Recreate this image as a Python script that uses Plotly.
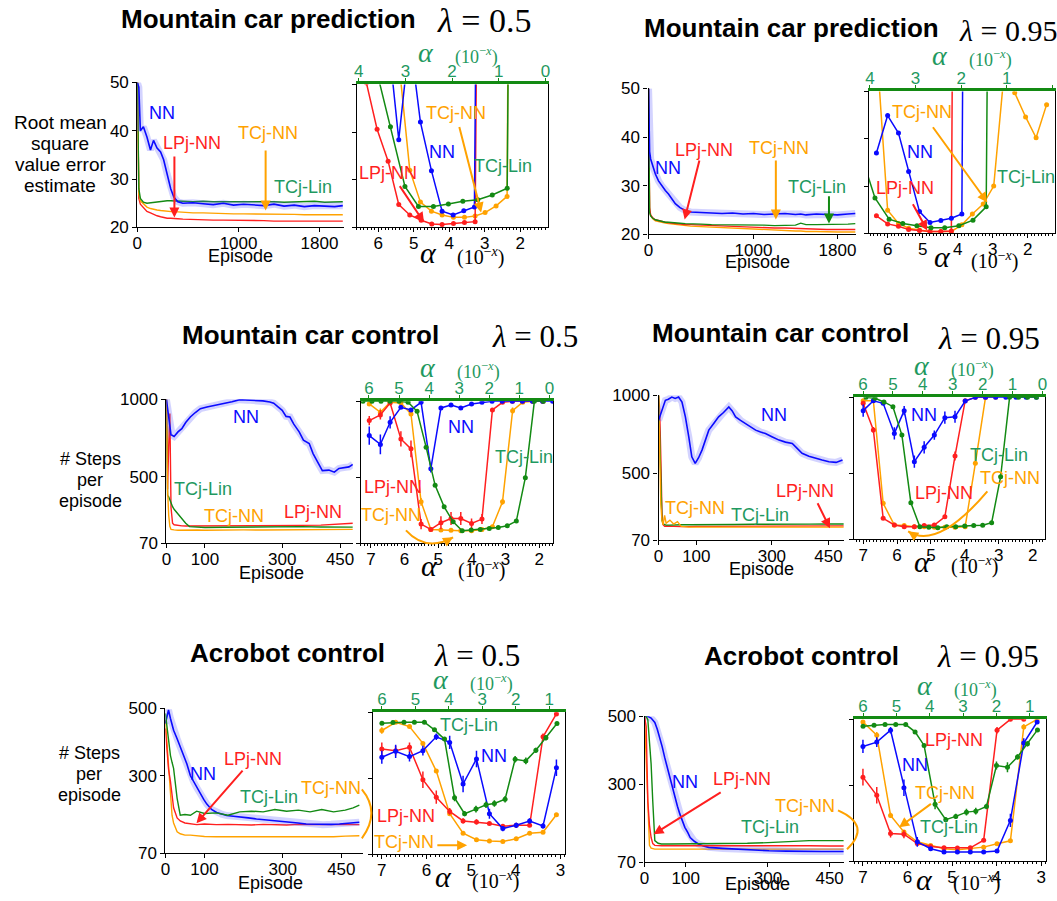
import plotly.graph_objects as go

W, H = 1057, 901
# measured placement of the figure inside the returned picture: picture = S * figure + O
SX, OX = 0.991, 5.0
SY, OY = 0.979, 8.6
BLUE = "#0a0aff"
RED = "#ff1f1f"
ORANGE = "#ffa200"
GREEN = "#138a13"
TGREEN = "#1f9960"
SANS = "Liberation Sans, Arial, sans-serif"
SERIF = "Liberation Serif, DejaVu Serif, serif"

# ------------------------------------------------------------------ DATA
# tick labels
pred_xticks = [0, 1000, 1800]
pred_yticks = [20, 30, 40, 50]
ctrl_xticks = [0, 100, 300, 450]
ctrl_yticks = [70, 500, 1000]
acro_yticks = [70, 300, 500]
pred_sens_ticks = [6, 5, 4, 3, 2]
pred_top_ticks = [4, 3, 2, 1, 0]
ctrl_sens_ticks = [7, 6, 5, 4, 3, 2]
ctrl_top_ticks = [6, 5, 4, 3, 2, 1, 0]
acro_sens_ticks = [7, 6, 5, 4, 3]
acro_top_ticks = [6, 5, 4, 3, 2, 1]

# Mountain car prediction, lambda 0.5 (learning curves)
mcp05_ep = [0, 15, 30, 60, 95, 130, 160, 195, 230, 260, 295, 330, 360, 400, 450, 550, 650, 750, 850, 950,
            1050, 1150, 1250, 1350, 1450, 1550, 1650, 1750, 1850, 1950, 2030]
mcp05_nn = [50, 49, 40, 40.8, 38.7, 36, 38, 36.4, 35.6, 34, 31, 28, 26.3, 25.3, 25.0, 25.1, 24.9, 24.7, 25.0, 24.6,
            24.8, 24.7, 24.5, 24.8, 24.4, 24.6, 24.3, 24.5, 24.4, 24.3, 24.5]
mcp05_tclin = [52, 28, 26, 25.2, 25.0, 25.1, 25.2, 25.3, 25.4, 25.5, 25.5, 25.5, 25.5, 25.4, 25.4, 25.3, 25.4, 25.3,
               25.3, 25.3, 25.3, 25.4, 25.3, 25.3, 25.2, 25.3, 25.3, 25.4, 25.2, 25.2, 25.3]
mcp05_tcnn = [52, 27, 25.5, 24.8, 24.2, 23.9, 23.7, 23.6, 23.5, 23.4, 23.3, 23.3, 23.2, 23.2, 23.1, 23.0, 23.0, 22.9,
              22.9, 22.8, 22.8, 22.8, 22.7, 22.7, 22.7, 22.7, 22.6, 22.6, 22.6, 22.6, 22.6]
mcp05_lpnn = [52, 26, 24.8, 24.0, 23.3, 23.0, 22.7, 22.4, 22.2, 22.0, 21.9, 21.9, 21.8, 21.8, 21.7, 21.6, 21.6, 21.5,
              21.5, 21.5, 21.4, 21.4, 21.4, 21.3, 21.3, 21.3, 21.2, 21.2, 21.2, 21.2, 21.3]

# Mountain car prediction, lambda 0.95
mcp095_ep = [0, 10, 20, 40, 65, 95, 125, 160, 190, 225, 255, 300, 350, 400, 500, 600, 700, 800, 900, 1000,
             1100, 1200, 1300, 1400, 1450, 1500, 1600, 1700, 1800, 1900, 1970]
mcp095_nn = [50, 37, 35.5, 34, 32.4, 31, 30, 29, 28.3, 27.2, 26.3, 25.5, 24.9, 24.6, 24.5, 24.4, 24.3, 24.4, 24.2,
             24.3, 24.1, 24.2, 24.3, 24.1, 24.2, 24.0, 24.2, 24.1, 24.0, 24.2, 24.3]
mcp095_tcnn = [50, 25, 23.9, 23.2, 22.8, 22.6, 22.4, 22.3, 22.2, 22.1, 22.0, 21.9, 21.8, 21.7, 21.6, 21.5, 21.3,
               21.2, 21.1, 21.0, 20.9, 20.8, 20.8, 20.7, 20.7, 20.6, 20.6, 20.5, 20.5, 20.5, 20.5]
mcp095_lpnn = [50, 25.5, 24.0, 23.4, 23.0, 22.8, 22.6, 22.5, 22.4, 22.3, 22.2, 22.1, 22.0, 22.0, 21.9, 21.8, 21.7,
               21.6, 21.5, 21.4, 21.4, 21.3, 21.3, 21.2, 21.2, 21.1, 21.1, 21.0, 21.0, 21.0, 21.0]
mcp095_tclin = [50, 24.5, 23.8, 23.3, 23.0, 22.8, 22.6, 22.5, 22.5, 22.4, 22.3, 22.3, 22.2, 22.2, 22.1, 22.0, 22.0,
                22.0, 21.9, 21.9, 21.9, 21.8, 21.8, 21.9, 22.3, 22.0, 22.0, 22.0, 22.1, 22.1, 22.2]

# Mountain car control, lambda 0.5
mcc05_ep = [0, 5, 9, 12, 15, 20, 30, 40, 50, 62, 75, 88, 105, 125, 148, 170, 190, 210, 233, 250,
            268, 278, 290, 300, 310, 320, 330, 344, 355, 362, 370, 380, 390, 404, 421, 435, 447, 460, 473, 483]
mcc05_nn = [1000, 900, 800, 770, 768, 760, 790, 811, 850, 886, 915, 940, 951, 960, 972, 985, 998, 995, 994, 990,
            983, 975, 950, 929, 890, 886, 840, 790, 736, 725, 715, 650, 600, 540, 543, 530, 554, 560, 564, 580]
mcc05_ep2 = [0, 3, 6, 9, 12, 16, 20, 30, 40, 50, 60, 80, 100, 150, 200, 250, 300, 350, 400, 450, 483]
mcc05_lpnn = [1000, 420, 700, 908, 300, 200, 190, 185, 183, 182, 182, 182, 183, 182, 184, 183, 185, 186, 188, 195, 200]
mcc05_tclin = [1000, 380, 371, 350, 330, 307, 290, 260, 232, 200, 178, 175, 172, 174, 176, 175, 180, 178, 176, 177, 175]
mcc05_tcnn = [1000, 420, 250, 180, 160, 157, 157, 155, 156, 157, 155, 156, 155, 158, 157, 156, 157, 156, 158, 157, 160]

# Mountain car control, lambda 0.95
mcc095_ep = [0, 8, 18, 26, 35, 44, 53, 62, 71, 80, 88, 97, 106, 115, 124, 133, 146, 159, 172, 186,
             195, 204, 217, 230, 244, 257, 270, 283, 300, 319, 336, 354, 367, 380, 398, 416, 433, 451, 470, 487]
mcc095_nn = [840, 900, 968, 975, 989, 980, 989, 957, 862, 734, 606, 564, 600, 649, 720, 777, 820, 862, 890, 926,
             900, 862, 840, 819, 800, 777, 765, 755, 735, 713, 700, 691, 660, 628, 610, 596, 585, 574, 570, 585]
mcc095_ep2 = [0, 3, 6, 9, 12, 16, 20, 30, 40, 50, 60, 80, 100, 150, 200, 250, 300, 350, 400, 450, 490]
mcc095_lpnn = [1000, 900, 600, 250, 170, 160, 162, 160, 158, 160, 158, 158, 160, 160, 161, 162, 160, 162, 163, 162, 163]
mcc095_tcnn = [1000, 500, 300, 200, 170, 230, 180, 200, 175, 190, 160, 155, 155, 154, 155, 154, 155, 154, 155, 154, 155]
mcc095_tclin = [1000, 700, 350, 200, 175, 170, 168, 168, 170, 170, 170, 170, 171, 172, 172, 173, 172, 173, 174, 175, 175]

# Acrobot control, lambda 0.5
acr05_ep = [0, 4, 8, 13, 21, 30, 38, 47, 55, 64, 72, 80, 89, 98, 106, 118, 131, 144, 157, 174,
            191, 212, 233, 254, 275, 297, 318, 339, 360, 381, 403, 424, 445, 470, 496]
acr05_nn = [455, 480, 495, 470, 435, 410, 385, 355, 335, 300, 283, 265, 245, 230, 216, 200, 191, 186, 182, 180,
            177, 175, 172, 170, 167, 165, 162, 160, 157, 156, 155, 156, 157, 159, 162]
acr05_ep2 = [0, 4, 8, 13, 17, 21, 30, 38, 50, 64, 80, 100, 130, 160, 190, 220, 250, 280, 310, 340,
             370, 400, 430, 460, 480, 496]
acr05_tclin = [485, 450, 400, 360, 340, 322, 233, 183, 185, 183, 195, 188, 190, 183, 193, 195, 193, 200, 195, 198,
               193, 200, 193, 198, 205, 213]
acr05_lpnn = [440, 385, 320, 283, 240, 205, 175, 166, 160, 157, 155, 157, 155, 156, 155, 154, 156, 155, 154, 156,
              155, 154, 155, 156, 155, 155]
acr05_tcnn = [465, 400, 335, 250, 183, 160, 134, 128, 124, 124, 122, 120, 119, 119, 120, 119, 118, 120, 119, 119,
              120, 119, 119, 121, 121, 122]

# Acrobot control, lambda 0.95
acr095_ep = [0, 8, 16, 25, 31, 37, 43, 49, 55, 61, 67, 74, 80, 86, 92, 98, 105, 111, 121, 131,
             143, 156, 190, 221, 260, 303, 345, 385, 430, 484]
acr095_nn = [500, 500, 495, 482, 462, 438, 410, 379, 350, 320, 290, 261, 235, 212, 190, 173, 158, 143, 132, 124,
             118, 114, 111, 109, 106, 104, 103, 102, 102, 102]
acr095_ep2 = [0, 4, 8, 12, 16, 20, 25, 33, 41, 60, 100, 150, 200, 250, 300, 350, 400, 450, 484]
acr095_tclin = [500, 500, 490, 430, 360, 250, 134, 126, 124, 124, 124, 125, 125, 126, 128, 132, 134, 134, 134]
acr095_lpnn = [500, 470, 250, 180, 143, 125, 120, 119, 119, 119, 119, 120, 119, 120, 121, 120, 119, 118, 118]
acr095_tcnn = [500, 380, 212, 120, 112, 110, 109, 109, 109, 109, 109, 108, 109, 109, 110, 109, 109, 110, 109]

# ---- step-size sensitivity (alpha = 10^-x; TCj-Lin on the top axis)
mcp05s_nn_a = [5.72, 5.42, 5.11, 4.81, 4.50, 4.20, 3.89, 3.59, 3.29, 2.98]
mcp05s_nn_v = [60, 38.4, 60, 42.1, 31.9, 23.4, 22.6, 23.5, 24.3, 300]
mcp05s_lp_a = [6.33, 6.03, 5.72, 5.42, 5.11, 4.79, 4.49, 4.20, 3.88, 3.57, 3.27, 2.97]
mcp05s_lp_v = [50.3, 40.6, 33.9, 24.8, 22.6, 21.5, 20.7, 20.6, 20.8, 21.0, 21.2, 300]
mcp05s_tcnn_a = [5.42, 5.11, 4.81, 4.50, 4.20, 3.88, 3.57, 3.27, 2.99, 2.68, 2.37, 2.07]
mcp05s_tcnn_v = [55, 32, 25.3, 23.4, 22.6, 22.1, 22.1, 22.4, 23.1, 24.5, 26.5, 400]
mcp05s_tclin_a = [3.62, 3.32, 3.01, 2.72, 2.40, 2.08, 1.77, 1.45, 1.14, 0.82, 0.52]
mcp05s_tclin_v = [53, 41.1, 28.6, 24.4, 24.4, 24.9, 25.5, 25.8, 26.8, 28.2, 400]

mcp095s_nn_a = [6.32, 6.0, 5.69, 5.40, 5.09, 4.79, 4.48, 4.18, 3.88, 3.58]
mcp095s_nn_v = [37.0, 44.9, 41.2, 33.1, 24.6, 22.3, 22.7, 23.2, 24.1, 400]
mcp095s_lp_a = [6.32, 6.0, 5.69, 5.40, 5.09, 4.79, 4.48, 4.18, 3.88]
mcp095s_lp_v = [23.7, 22.0, 21.5, 20.8, 20.6, 20.4, 20.4, 20.5, 400]
mcp095s_tcnn_a = [6.32, 6.0, 5.69, 5.40, 5.09, 4.79, 4.48, 4.18, 3.88, 3.58, 3.27, 2.97, 2.66, 2.37, 2.06, 1.76, 1.46]
mcp095s_tcnn_v = [60, 24.9, 22.1, 21.1, 20.7, 20.4, 20.4, 20.4, 21.8, 24.1, 26.2, 30.0, 55, 49.7, 44.6, 40.2, 47.2]
mcp095s_tclin_a = [4.19, 3.89, 3.58, 3.28, 2.97, 2.66, 2.36, 2.05, 1.74, 1.45, 1.14]
mcp095s_tclin_v = [36.5, 27.5, 23.0, 22.1, 21.6, 21.2, 21.2, 21.6, 22.8, 25.6, 400]

mcc05s_nn_a = [7.05, 6.72, 6.43, 6.11, 5.81, 5.51, 5.22, 4.92, 4.62, 4.33, 4.01, 3.70, 3.40, 3.10, 2.80, 2.50,
               2.20, 1.90, 1.60]
mcc05s_nn_v = [776, 718, 863, 961, 944, 994, 559, 957, 976, 957, 983, 994, 1000, 1000, 1000, 1000, 1000, 1000, 1000]
mcc05s_nn_e = [60, 65, 40, 10, 10, 5, 25, 10, 5, 5, 5, 5, 0, 0, 0, 0, 0, 0, 0]
mcc05s_lp_a = [7.05, 6.72, 6.43, 6.11, 5.81, 5.51, 5.22, 4.92, 4.62, 4.33, 4.01, 3.70, 3.39, 3.09, 2.79, 2.49,
               2.19, 1.89]
mcc05s_lp_v = [874, 911, 989, 754, 689, 196, 161, 205, 233, 233, 200, 229, 944, 994, 1000, 1000, 1000, 1000]
mcc05s_lp_e = [30, 30, 5, 50, 55, 33, 10, 43, 43, 43, 33, 33, 10, 5, 0, 0, 0, 0]
mcc05s_tcnn_v = [983, 928, 994, 989, 917, 342, 161, 157, 155, 153, 153, 161, 179, 342, 939, 994, 1000, 1000]
mcc05s_tcnn_e = [10, 25, 5, 5, 10, 25, 8, 5, 5, 5, 5, 5, 8, 20, 20, 5, 0, 0]
mcc05s_tclin_a = [6.2, 5.9, 5.6, 5.3, 5.0, 4.7, 4.4, 4.1, 3.8, 3.5, 3.2, 2.9, 2.6, 2.3, 2.0, 1.7, 1.4, 1.1, 0.8,
                  0.5, 0.2]
mcc05s_tclin_v = [1000, 1000, 1000, 1000, 1000, 994, 935, 700, 450, 309, 211, 153, 157, 161, 168, 174, 185, 216,
                  500, 1000, 1000]

mcc095s_nn_a = [7.0, 6.7, 6.41, 6.08, 5.79, 5.49, 5.2, 4.9, 4.59, 4.29, 3.99, 3.69, 3.39, 3.09, 2.79, 2.49, 2.19, 1.89]
mcc095s_nn_v = [913, 978, 961, 764, 913, 579, 673, 753, 867, 873, 976, 1000, 1000, 1000, 1000, 1000, 1000, 1000]
mcc095s_nn_e = [40, 5, 10, 40, 30, 40, 40, 30, 40, 40, 10, 0, 0, 0, 0, 0, 0, 0]
mcc095s_lp_a = [7.0, 6.7, 6.41, 6.08, 5.79, 5.49, 5.2, 4.9, 4.59, 4.29, 3.99, 3.69, 3.39]
mcc095s_lp_v = [961, 786, 208, 164, 153, 153, 160, 164, 218, 616, 978, 1000, 1000]
mcc095s_lp_e = [15, 20, 10, 5, 5, 5, 5, 5, 10, 30, 5, 0, 0]
mcc095s_tcnn_a = [7.0, 6.7, 6.41, 6.08, 5.79, 5.49, 5.2, 4.9, 4.59, 4.29, 3.99, 3.69, 3.39, 3.09]
mcc095s_tcnn_v = [978, 978, 306, 164, 160, 153, 153, 149, 149, 149, 153, 568, 1000, 1000]
mcc095s_tclin_a = [5.9, 5.6, 5.3, 5.0, 4.7, 4.4, 4.1, 3.8, 3.5, 3.2, 2.9, 2.6, 2.3, 2.0, 1.7, 1.4, 1.1, 0.8, 0.5, 0.2]
mcc095s_tclin_v = [1000, 994, 970, 939, 753, 310, 153, 149, 146, 153, 153, 157, 160, 162, 179, 480, 1000, 1000,
                   1000, 1000]

acr05s_a = [7.0, 6.69, 6.38, 6.08, 5.78, 5.48, 5.18, 4.88, 4.59, 4.29, 3.99, 3.69, 3.39, 3.09]
acr05s_nn_v = [364, 382, 366, 384, 426, 409, 283, 359, 193, 148, 158, 171, 156, 332]
acr05s_nn_e = [20, 20, 15, 15, 10, 20, 25, 25, 15, 8, 8, 8, 8, 25]
acr05s_lp_v = [389, 384, 394, 296, 243, 200, 171, 168, 163, 155, 158, 158, 426, 495]
acr05s_lp_e = [20, 15, 15, 25, 20, 10, 8, 8, 5, 5, 5, 5, 10, 5]
acr05s_tcnn_v = [445, 470, 457, 406, 322, 193, 134, 114, 110, 109, 117, 134, 137, 190]
acr05s_tcnn_e = [10, 5, 5, 5, 5, 5, 3, 3, 3, 3, 3, 3, 3, 5]
acr05s_tclin_a = [6.0, 5.67, 5.34, 5.03, 4.73, 4.43, 4.13, 3.83, 3.53, 3.19, 2.89, 2.64, 2.32, 2.02, 1.70, 1.40,
                  1.10, 0.77]
acr05s_tclin_v = [467, 469, 470, 470, 470, 447, 419, 241, 193, 207, 220, 224, 237, 358, 353, 385, 423, 466]
acr05s_tclin_e = [3, 3, 3, 3, 3, 5, 5, 10, 8, 10, 10, 10, 10, 10, 10, 8, 8, 5]

acr095s_a = [7.0, 6.69, 6.38, 6.08, 5.78, 5.48, 5.18, 4.88, 4.59, 4.29, 3.99, 3.69, 3.39, 3.09]
acr095s_nn_v = [418, 431, 467, 293, 129, 108, 98, 98, 98, 98, 101, 194, 428, 492]
acr095s_nn_e = [20, 15, 10, 25, 15, 5, 3, 3, 3, 3, 3, 20, 15, 5]
acr095s_lp_a = [7.0, 6.69, 6.38, 6.08, 5.78, 5.48, 5.18, 4.88, 4.59, 4.29, 3.99, 3.69, 3.39]
acr095s_lp_v = [325, 270, 154, 152, 124, 115, 111, 110, 111, 134, 467, 500, 500]
acr095s_lp_e = [25, 25, 12, 12, 5, 3, 3, 3, 3, 5, 10, 0, 0]
acr095s_tcnn_v = [492, 452, 209, 159, 129, 118, 108, 105, 108, 113, 123, 132, 477, 500]
acr095s_tcnn_e = [5, 10, 8, 5, 3, 3, 3, 3, 3, 3, 3, 3, 8, 0]
acr095s_tclin_a = [6.0, 5.67, 5.34, 5.02, 4.72, 4.44, 4.17, 3.84, 3.52, 3.22, 2.9, 2.62, 2.3, 2.0, 1.67, 1.37,
                   1.07, 0.77]
acr095s_tclin_v = [479, 482, 484, 484, 484, 462, 421, 243, 196, 206, 219, 222, 236, 360, 355, 386, 426, 468]
acr095s_tclin_e = [3, 3, 3, 3, 3, 5, 5, 15, 8, 8, 10, 10, 8, 12, 15, 8, 8, 5]

# ------------------------------------------------------------------ FIGURE
def fxp(x):
    return (x - OX) / SX


def fyp(y):
    return (y - OY) / SY


def px(x):
    return min(1.0, max(0.0, fxp(x) / W))


def py(y):
    return min(1.0, max(0.0, 1 - fyp(y) / H))


def an(i):
    return "x" if i == 1 else f"x{i}"


def yn(i):
    return "y" if i == 1 else f"y{i}"


def xk(i):
    return "xaxis" if i == 1 else f"xaxis{i}"


def yk(i):
    return "yaxis" if i == 1 else f"yaxis{i}"


fig = go.Figure()
layout = dict(width=W, height=H, margin=dict(l=0, r=0, t=0, b=0), paper_bgcolor="white",
              plot_bgcolor="white", showlegend=False, font=dict(family=SANS, size=17, color="black"))
annotations = []
shapes = []

AX = dict(showgrid=False, zeroline=False, showline=True, linecolor="black", linewidth=1.2,
          ticks="outside", ticklen=4, tickcolor="black", tickfont=dict(size=17, family=SANS, color="black"))


def learn_axes(i, box, xr, xt, yr, yt):
    x0, y0, x1, y1 = box
    layout[xk(i)] = dict(AX, domain=[px(x0), px(x1)], range=xr, tickvals=xt, ticktext=[str(t) for t in xt],
                         anchor=yn(i), ticklabelstandoff=-4)
    layout[yk(i)] = dict(AX, domain=[py(y1), py(y0)], range=yr, tickvals=yt, ticktext=[str(t) for t in yt],
                         anchor=an(i))


def sens_axes(i, ti, box, xr, xt, tr, tt, yr, yt):
    x0, y0, x1, y1 = box
    layout[xk(i)] = dict(AX, domain=[px(x0), px(x1)], range=xr, tickvals=xt, ticktext=[str(t) for t in xt],
                         anchor=yn(i), ticklabelstandoff=-4,
                         minor=dict(ticks="outside", dtick=0.1, ticklen=2, tickcolor="black"))
    layout[yk(i)] = dict(AX, domain=[py(y1), py(y0)], range=yr, tickvals=yt, showticklabels=False,
                         anchor=an(i), mirror=True)
    layout[xk(ti)] = dict(AX, domain=[px(x0), px(x1)], range=tr, tickvals=tt, ticktext=[str(t) for t in tt],
                          anchor=yn(i), overlaying=an(i), side="top", linecolor=GREEN, linewidth=3,
                          tickcolor=GREEN, ticklen=3, ticklabelstandoff=-5,
                          tickfont=dict(size=17, family=SANS, color=TGREEN))


def curve(x, y, color, i, width=1.4):
    fig.add_trace(go.Scatter(x=x, y=y, mode="lines", line=dict(color=color, width=width),
                             xaxis=an(i), yaxis=yn(i), hoverinfo="skip"))


def nn_curve(x, y, i):
    fig.add_trace(go.Scatter(x=x, y=y, mode="lines", line=dict(color="rgba(80,80,255,0.25)", width=7),
                             xaxis=an(i), yaxis=yn(i), hoverinfo="skip"))
    curve(x, y, BLUE, i, 1.6)


def sens(x, y, color, i, xi=None, err=None):
    kw = {}
    if err is not None:
        kw["error_y"] = dict(type="data", array=err, visible=True, color=color, thickness=1.5, width=0)
    fig.add_trace(go.Scatter(x=x, y=y, mode="lines+markers", line=dict(color=color, width=1.5),
                             marker=dict(color=color, size=5), xaxis=an(xi if xi else i), yaxis=yn(i),
                             hoverinfo="skip", **kw))


def label(x, y, text, color, size=18, family=SANS, anchor="center"):
    fy = min(fyp(y), H - 0.36 * size - 1)
    annotations.append(dict(x=px(x), y=1 - fy / H, xref="paper", yref="paper", text=text, showarrow=False,
                            font=dict(color=color, size=size, family=family), xanchor=anchor, yanchor="middle"))


def arrow(tail, tip, color):
    annotations.append(dict(x=px(tip[0]), y=py(tip[1]), xref="paper", yref="paper", text="", showarrow=True,
                            ax=(tail[0] - tip[0]) / SX, ay=(tail[1] - tip[1]) / SY, axref="pixel", ayref="pixel",
                            arrowhead=2, arrowsize=1, arrowwidth=2, arrowcolor=color))


def curved(p0, c, p1, color, head=True):
    path = f"M {px(p0[0])},{py(p0[1])} Q {px(c[0])},{py(c[1])} {px(p1[0])},{py(p1[1])}"
    shapes.append(dict(type="path", path=path, xref="paper", yref="paper", line=dict(color=color, width=2)))
    if head:
        dx, dy = p1[0] - c[0], p1[1] - c[1]
        n = (dx * dx + dy * dy) ** 0.5
        arrow((p1[0] - 7 * dx / n, p1[1] - 7 * dy / n), p1, color)


def alpha_label(x, y, color, a_size=30, p_size=20, gap=52):
    label(x, y - 6, "<i>α</i>", color, a_size, SERIF)
    label(x + gap, y - 2, "(10<sup>−<i>x</i></sup>)", color, p_size, SERIF)


def title(x, y, text, lx, ly, lam, lsize=31):
    label(x, y, f"<b>{text}</b>", "black", 26, SANS)
    label(lx, ly, f"<i>λ</i> = {lam}", "black", lsize, SERIF, anchor="left")


# ---------------- Row 1: Mountain car prediction
learn_axes(1, (137, 82, 343, 227), [0, 2040], pred_xticks, [20, 50], pred_yticks)
curve(mcp05_ep, mcp05_lpnn, RED, 1)
curve(mcp05_ep, mcp05_tcnn, ORANGE, 1)
curve(mcp05_ep, mcp05_tclin, GREEN, 1)
nn_curve(mcp05_ep, mcp05_nn, 1)

sens_axes(2, 13, (356, 84, 547, 227), [6.6, 1.21], pred_sens_ticks, [4.04, -0.06], pred_top_ticks,
          [20, 50], pred_yticks)
sens(mcp05s_tclin_a, mcp05s_tclin_v, GREEN, 2, xi=13)
sens(mcp05s_tcnn_a, mcp05s_tcnn_v, ORANGE, 2)
sens(mcp05s_lp_a, mcp05s_lp_v, RED, 2)
sens(mcp05s_nn_a, mcp05s_nn_v, BLUE, 2)

learn_axes(3, (647, 88, 854, 234), [0, 1977], pred_xticks, [20, 50], pred_yticks)
curve(mcp095_ep, mcp095_tcnn, ORANGE, 3)
curve(mcp095_ep, mcp095_lpnn, RED, 3)
curve(mcp095_ep, mcp095_tclin, GREEN, 3)
nn_curve(mcp095_ep, mcp095_nn, 3)

sens_axes(4, 14, (867, 91, 1057, 233), [6.53, 1.22], pred_sens_ticks, [4.02, -0.06], pred_top_ticks,
          [20, 50], pred_yticks)
sens(mcp095s_tclin_a, mcp095s_tclin_v, GREEN, 4, xi=14)
sens(mcp095s_tcnn_a, mcp095s_tcnn_v, ORANGE, 4)
sens(mcp095s_lp_a, mcp095s_lp_v, RED, 4)
sens(mcp095s_nn_a, mcp095s_nn_v, BLUE, 4)

# ---------------- Row 2: Mountain car control
learn_axes(5, (166, 399, 352, 543), [0, 483], ctrl_xticks, [70, 1000], ctrl_yticks)
curve(mcc05_ep2, mcc05_lpnn, RED, 5)
curve(mcc05_ep2, mcc05_tclin, GREEN, 5)
curve(mcc05_ep2, mcc05_tcnn, ORANGE, 5)
nn_curve(mcc05_ep, mcc05_nn, 5)

sens_axes(6, 15, (360, 401, 552, 543), [7.3, 1.58], ctrl_sens_ticks, [6.27, -0.13], ctrl_top_ticks,
          [70, 1000], ctrl_yticks)
sens(mcc05s_tclin_a, mcc05s_tclin_v, GREEN, 6, xi=15)
sens(mcc05s_lp_a, mcc05s_tcnn_v, ORANGE, 6, err=mcc05s_tcnn_e)
sens(mcc05s_lp_a, mcc05s_lp_v, RED, 6, err=mcc05s_lp_e)
sens(mcc05s_nn_a, mcc05s_nn_v, BLUE, 6, err=mcc05s_nn_e)

learn_axes(7, (657, 395, 842, 540), [0, 491], ctrl_xticks, [70, 1000], ctrl_yticks)
curve(mcc095_ep2, mcc095_lpnn, RED, 7)
curve(mcc095_ep2, mcc095_tclin, GREEN, 7)
curve(mcc095_ep2, mcc095_tcnn, ORANGE, 7)
nn_curve(mcc095_ep, mcc095_nn, 7)

sens_axes(8, 16, (852, 397, 1043, 539), [7.27, 1.62], ctrl_sens_ticks, [6.3, -0.1], ctrl_top_ticks,
          [70, 1000], ctrl_yticks)
sens(mcc095s_tclin_a, mcc095s_tclin_v, GREEN, 8, xi=16)
sens(mcc095s_tcnn_a, mcc095s_tcnn_v, ORANGE, 8)
sens(mcc095s_lp_a, mcc095s_lp_v, RED, 8, err=mcc095s_lp_e)
sens(mcc095s_nn_a, mcc095s_nn_v, BLUE, 8, err=mcc095s_nn_e)

# ---------------- Row 3: Acrobot control
learn_axes(9, (165, 708, 362, 853), [0, 505], ctrl_xticks, [70, 500], acro_yticks)
curve(acr05_ep2, acr05_tcnn, ORANGE, 9)
curve(acr05_ep2, acr05_lpnn, RED, 9)
nn_curve(acr05_ep, acr05_nn, 9)
curve(acr05_ep2, acr05_tclin, GREEN, 9)

sens_axes(10, 17, (372, 712, 564, 854), [7.2, 2.89], acro_sens_ticks, [6.27, 0.52], acro_top_ticks,
          [70, 500], acro_yticks)
sens(acr05s_tclin_a, acr05s_tclin_v, GREEN, 10, xi=17, err=acr05s_tclin_e)
sens(acr05s_a, acr05s_tcnn_v, ORANGE, 10, err=acr05s_tcnn_e)
sens(acr05s_a, acr05s_lp_v, RED, 10, err=acr05s_lp_e)
sens(acr05s_a, acr05s_nn_v, BLUE, 10, err=acr05s_nn_e)

learn_axes(11, (643, 716, 842, 862), [0, 485], ctrl_xticks, [70, 500], acro_yticks)
curve(acr095_ep2, acr095_tcnn, ORANGE, 11)
nn_curve(acr095_ep, acr095_nn, 11)
curve(acr095_ep2, acr095_lpnn, RED, 11)
curve(acr095_ep2, acr095_tclin, GREEN, 11)

sens_axes(12, 18, (852, 719, 1044, 861), [7.2, 2.88], acro_sens_ticks, [6.27, 0.5], acro_top_ticks,
          [70, 500], acro_yticks)
sens(acr095s_tclin_a, acr095s_tclin_v, GREEN, 12, xi=18, err=acr095s_tclin_e)
sens(acr095s_a, acr095s_tcnn_v, ORANGE, 12, err=acr095s_tcnn_e)
sens(acr095s_lp_a, acr095s_lp_v, RED, 12, err=acr095s_lp_e)
sens(acr095s_a, acr095s_nn_v, BLUE, 12, err=acr095s_nn_e)

# ---------------- titles, axis labels
title(268, 19, "Mountain car prediction", 434, 20, "0.5", 34)
title(790, 28, "Mountain car prediction", 955, 30, "0.95", 30)
title(310, 335, "Mountain car control", 489, 336, "0.5")
title(779, 333, "Mountain car control", 934, 338, "0.95")
title(287, 653, "Acrobot control", 431, 655, "0.5")
title(800, 656, "Acrobot control", 933, 656, "0.95")

for txt, yy in [("Root mean", 122), ("square", 143), ("value error", 164), ("estimate", 185)]:
    label(60, yy, txt, "black", 19)
for txt, yy in [("# Steps", 459), ("per", 480), ("episode", 501)]:
    label(90, yy, txt, "black", 18)
for txt, yy in [("# Steps", 753), ("per", 774), ("episode", 795)]:
    label(89, yy, txt, "black", 18)

for (x, y) in [(240, 256), (756, 262), (271, 573), (760, 569), (270, 883), (756, 890)]:
    label(x, y, "Episode", "black", 18)

for (x, y) in [(427, 258), (940, 262), (428, 571), (920, 567), (442, 882), (922, 886)]:
    alpha_label(x, y, "black")
for (x, y) in [(425, 58), (938, 61), (427, 373), (920, 371), (440, 685), (923, 691)]:
    alpha_label(x, y, TGREEN, 28, 18, 50)

# ---------------- series labels and arrows
# panel 1
label(162, 113, "NN", BLUE); label(192, 143, "LPj-NN", RED); label(267, 133, "TCj-NN", ORANGE)
label(302, 187, "TCj-Lin", TGREEN)
arrow((174, 156), (174, 217), RED); arrow((265, 150), (265, 210), ORANGE)
# panel 2
label(455, 113, "TCj-NN", ORANGE); label(441, 152, "NN", BLUE); label(387, 173, "LPj-NN", RED)
label(502, 166, "TCj-Lin", TGREEN)
arrow((458, 127), (480, 212), ORANGE); arrow((398, 185), (423, 222), RED)
# panel 3
label(666, 168, "NN", BLUE); label(702, 150, "LPj-NN", RED); label(777, 148, "TCj-NN", ORANGE)
label(815, 187, "TCj-Lin", TGREEN)
arrow((698, 160), (683, 219), RED); arrow((774, 160), (774, 219), ORANGE); arrow((827, 195), (827, 223), GREEN)
# panel 4
label(920, 112, "TCj-NN", ORANGE); label(918, 152, "NN", BLUE); label(903, 188, "LPj-NN", RED)
label(1024, 177, "TCj-Lin", TGREEN)
arrow((930, 127), (985, 202), ORANGE); arrow((910, 203), (925, 230), RED)
# panel 5
label(245, 417, "NN", BLUE); label(203, 489, "TCj-Lin", TGREEN); label(233, 516, "TCj-NN", ORANGE)
label(312, 512, "LPj-NN", RED)
# panel 6
label(460, 427, "NN", BLUE); label(523, 457, "TCj-Lin", TGREEN); label(392, 487, "LPj-NN", RED)
label(390, 515, "TCj-NN", ORANGE)
curved((405, 530), (425, 552), (452, 537), ORANGE)
# panel 7
label(772, 415, "NN", BLUE); label(803, 491, "LPj-NN", RED); label(693, 508, "TCj-NN", ORANGE)
label(758, 515, "TCj-Lin", TGREEN)
arrow((815, 502), (828, 528), RED)
# panel 8
label(922, 415, "NN", BLUE); label(997, 455, "TCj-Lin", TGREEN); label(1008, 478, "TCj-NN", ORANGE)
label(942, 493, "LPj-NN", RED)
curved((985, 491), (935, 550), (906, 531), ORANGE)
# panel 9
label(203, 774, "NN", BLUE); label(252, 759, "LPj-NN", RED); label(268, 797, "TCj-Lin", TGREEN)
label(330, 788, "TCj-NN", ORANGE)
arrow((243, 770), (196, 823), RED)
curved((361, 789), (380, 812), (361, 838), ORANGE, head=False)
# panel 10
label(468, 725, "TCj-Lin", TGREEN); label(493, 756, "NN", BLUE); label(405, 816, "LPj-NN", RED)
label(403, 842, "TCj-NN", ORANGE)
arrow((435, 845), (466, 845), ORANGE)
# panel 11
label(683, 782, "NN", BLUE); label(740, 779, "LPj-NN", RED); label(768, 827, "TCj-Lin", TGREEN)
label(803, 806, "TCj-NN", ORANGE)
arrow((720, 792), (652, 834), RED)
curved((836, 810), (870, 825), (845, 849), ORANGE, head=False)
# panel 12
label(952, 740, "LPj-NN", RED); label(913, 765, "NN", BLUE); label(943, 793, "TCj-NN", ORANGE)
label(947, 827, "TCj-Lin", TGREEN)
arrow((930, 803), (897, 827), ORANGE)

layout["annotations"] = annotations
layout["shapes"] = shapes
fig.update_layout(**layout)
fig.write_html("out.html")
